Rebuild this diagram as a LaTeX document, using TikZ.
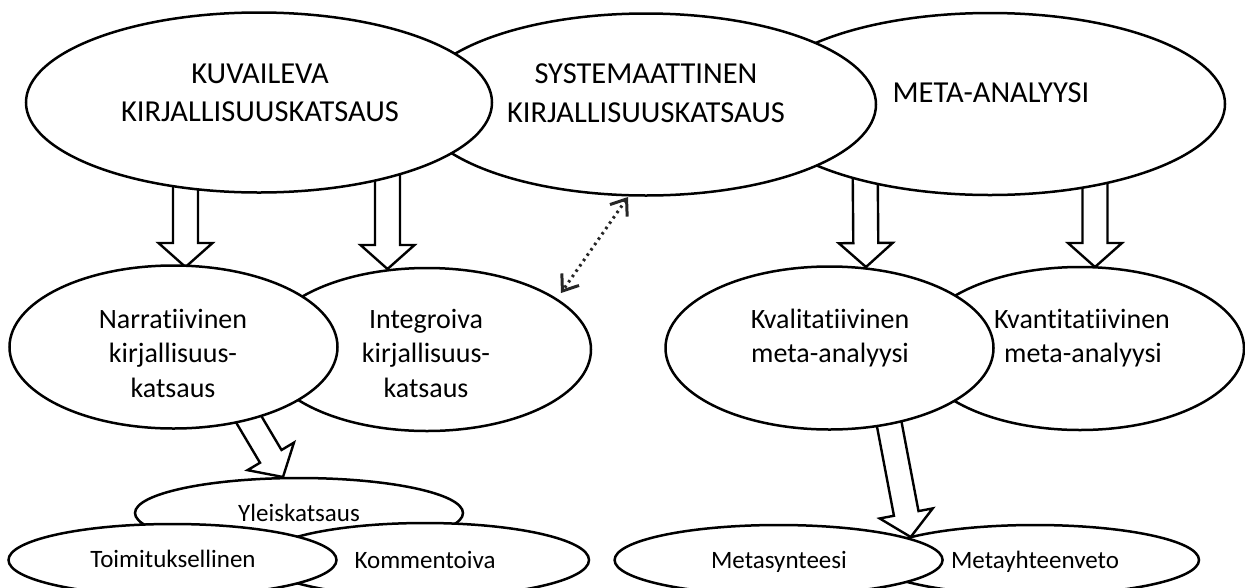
\documentclass[tikz,border=0pt]{standalone}
\usepackage{fontspec}
\setmainfont{Carlito}[Ligatures={NoCommon,NoRare,NoContextual}]
\usetikzlibrary{shapes.geometric,calc,arrows.meta}
\tikzset{
  ell/.style={ellipse, draw=black, line width=2.5pt, fill=white, inner sep=0pt, outer sep=0pt},
  ellA/.style={ell, minimum width=464pt, minimum height=182pt},
  ellB/.style={ell, minimum width=328pt, minimum height=163pt},
  ellC/.style={ell, minimum width=328pt, minimum height=72pt},
  barrow/.style={draw=black, line width=2.4pt, fill=white, line join=miter},
  txtA/.style={anchor=base, inner sep=0pt, font=\fontsize{30.5}{36}\selectfont},
  txtB/.style={anchor=base, inner sep=0pt, font=\fontsize{28}{34}\selectfont},
  txtC/.style={anchor=base, inner sep=0pt, font=\fontsize{25}{30}\selectfont},
  dotarrow/.style={line width=3pt, dash pattern=on 2.5pt off 4pt, black!85,
    {Straight Barb[length=14pt,width=21pt,line width=3pt]}-{Straight Barb[length=14pt,width=21pt,line width=3pt]}}
}
\newcommand\blockarrow[2]{%
  \coordinate (#1-h) at ($(#2)!24pt!(#1)$);
  \draw[barrow] ($(#1)!12.5pt!90:(#2)$) -- ($(#1-h)!12.5pt!-90:(#1)$) -- ($(#1-h)!27pt!-90:(#1)$) -- (#2)
    -- ($(#1-h)!27pt!90:(#1)$) -- ($(#1-h)!12.5pt!90:(#1)$) -- ($(#1)!12.5pt!-90:(#2)$) -- cycle;
}
\begin{document}
\begin{tikzpicture}[x=1pt,y=-1pt]
\path[fill=white, use as bounding box] (0,0) rectangle (1245,587);

% arrow end points
\coordinate (a1s) at (185.5,150);  \coordinate (a1t) at (185.5,267);
\coordinate (a2s) at (387.5,150);  \coordinate (a2t) at (387.5,269);
\coordinate (a3s) at (865,150);    \coordinate (a3t) at (866,267);
\coordinate (a4s) at (1095,150);   \coordinate (a4t) at (1095,267);
\coordinate (a5s) at (229.4,386.7); \coordinate (a5t) at (283,477);
\coordinate (a6s) at (882,386);    \coordinate (a6t) at (910.7,537);

\blockarrow{a1s}{a1t}
\blockarrow{a2s}{a2t}
\blockarrow{a3s}{a3t}
\blockarrow{a4s}{a4t}
\blockarrow{a5s}{a5t}
\blockarrow{a6s}{a6t}

% top row
\node[ellA, minimum width=470pt] (e3) at (990,104) {};
\node[ellA, minimum width=460pt] (e2) at (646,104.5) {};
\node[ellA, minimum width=466pt, minimum height=180pt] (e1) at (259,102.5) {};

% middle row
\node[ellB] (i) at (427,349.5) {};
\node[ellB] (n) at (173.5,347) {};
\node[ellB] (kn) at (1080,348.5) {};
\node[ellB] (kq) at (829.5,348) {};

% bottom row
\node[ellC, minimum height=70pt] (y) at (299,513) {};
\node[ellC, minimum height=74pt] (k) at (425,560) {};
\node[ellC] (t) at (172.5,560) {};
\node[ellC, minimum height=70pt] (my) at (1035,560) {};
\node[ellC, minimum height=70pt] (ms) at (778.6,560) {};

% dotted double arrow
\coordinate (d1) at (628,197);
\coordinate (d2) at (561,293);
\draw[dotarrow] (d1) -- (d2);

% texts
\node[txtA] (e1a) at (260,83) {KUVAILEVA};
\node[txtA] (e1b) at (260,121.5) {KIRJALLISUUSKATSAUS};
\node[txtA] (e2a) at (646,83) {SYSTEMAATTINEN};
\node[txtA] (e2b) at (646,122) {KIRJALLISUUSKATSAUS};
\node[txtA] (e3a) at (991,102) {META-ANALYYSI};

\node[txtB] (na) at (173,328) {Narratiivinen};
\node[txtB] (nb) at (173,362.5) {kirjallisuus-};
\node[txtB] (nc) at (173,397) {katsaus};
\node[txtB] (ia) at (426,328) {Integroiva};
\node[txtB] (ib) at (426,362.5) {kirjallisuus-};
\node[txtB] (ic) at (426,397) {katsaus};
\node[txtB] (kqa) at (830,328) {Kvalitatiivinen};
\node[txtB] (kqb) at (830,362.5) {meta-analyysi};
\node[txtB] (kna) at (1082,328) {Kvantitatiivinen};
\node[txtB] (knb) at (1083,362.5) {meta-analyysi};

\node[txtC] (ya) at (299,521) {Yleiskatsaus};
\node[txtC] (ta) at (173,567) {Toimituksellinen};
\node[txtC] (ka) at (425,568) {Kommentoiva};
\node[txtC] (msa) at (779,568) {Metasynteesi};
\node[txtC] (mya) at (1035,568) {Metayhteenveto};
\end{tikzpicture}
\end{document}
